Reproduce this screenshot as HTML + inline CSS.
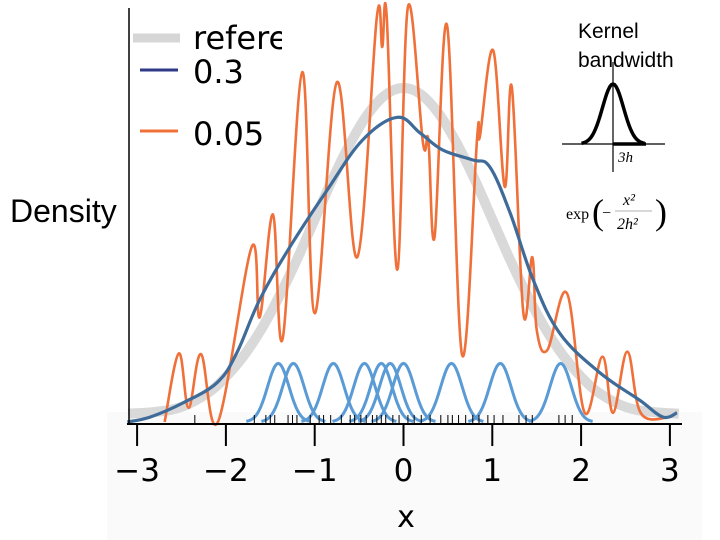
<!DOCTYPE html>
<html><head><meta charset="utf-8"><style>
html,body{margin:0;padding:0;background:#fff;}
svg{display:block;}
</style></head><body>
<svg id="chart" width="720" height="540" viewBox="0 0 720 540" xmlns="http://www.w3.org/2000/svg">
<rect x="107" y="412" width="595" height="128" fill="#fafafa"/>
<g id="plot"></g>
<g id="axes"></g>
<text x="10" y="222" font-family="Liberation Sans, sans-serif" font-size="32" fill="#000">Density</text>
<text x="406" y="527" text-anchor="middle" font-family="DejaVu Sans, sans-serif" font-size="30" fill="#000">x</text>
<g>
  <line x1="133" y1="38" x2="180" y2="38" stroke="#d6d6d6" stroke-width="9"/>
  <svg x="190" y="0" width="92" height="60"><text x="3" y="49" font-family="DejaVu Sans, sans-serif" font-size="32" fill="#000">reference</text></svg>
  <line x1="140" y1="70" x2="178" y2="70" stroke="#2e3a87" stroke-width="3"/>
  <text x="193" y="83" font-family="DejaVu Sans, sans-serif" font-size="32" fill="#000">0.3</text>
  <line x1="140" y1="131" x2="178" y2="131" stroke="#f0703a" stroke-width="3"/>
  <text x="193" y="145" font-family="DejaVu Sans, sans-serif" font-size="32" fill="#000">0.05</text>
</g>
<g>
  <text x="578" y="38" font-family="Liberation Sans, sans-serif" font-size="21" fill="#000">Kernel</text>
  <text x="578" y="67" font-family="Liberation Sans, sans-serif" font-size="21" fill="#000">bandwidth</text>
  <line x1="562" y1="144" x2="665" y2="144" stroke="#000" stroke-width="1.2"/>
  <line x1="613" y1="62" x2="613" y2="172" stroke="#000" stroke-width="1.2"/>
  <path id="kcurve" fill="none" stroke="#000" stroke-width="3.5"/>
  <line x1="613" y1="144" x2="646" y2="144" stroke="#000" stroke-width="3.5"/>
  <text x="618" y="162" font-family="Liberation Serif, serif" font-style="italic" font-size="15" fill="#000">3h</text>
  <text x="566" y="219" font-family="Liberation Serif, serif" font-size="16" fill="#000">exp</text>
  <text x="592" y="224" font-family="Liberation Serif, serif" font-size="36" fill="#000">(</text>
  <text x="602" y="218" font-family="Liberation Serif, serif" font-size="16" fill="#000">−</text>
  <text x="623" y="205" font-family="Liberation Serif, serif" font-style="italic" font-size="16" fill="#000">x²</text>
  <line x1="615" y1="211" x2="652" y2="211" stroke="#999" stroke-width="0.8"/>
  <text x="617" y="229" font-family="Liberation Serif, serif" font-style="italic" font-size="16" fill="#000">2h²</text>
  <text x="655" y="224" font-family="Liberation Serif, serif" font-size="36" fill="#000">)</text>
</g>
</svg>
<script>
// ---- data ----
const refX = [-3.1,-2.8,-2.5,-2.2,-2.0,-1.8,-1.6,-1.4,-1.2,-1.0,-0.8,-0.6,-0.4,-0.2,0,0.2,0.4,0.6,0.8,1.0,1.2,1.4,1.6,1.8,2.0,2.2,2.5,2.8,3.1];
const refY = [0.010,0.012,0.018,0.035,0.054,0.079,0.111,0.150,0.194,0.242,0.290,0.333,0.368,0.391,0.399,0.391,0.368,0.333,0.290,0.242,0.194,0.150,0.111,0.079,0.054,0.035,0.018,0.012,0.010];
const bw03X = [-3.11,-2.85,-2.48,-2.10,-1.88,-1.62,-1.28,-0.86,-0.46,-0.07,0.19,0.44,0.78,0.97,1.20,1.46,1.76,2.21,2.66,2.92,3.08];
const bw03Y = [0,0.006,0.023,0.047,0.082,0.146,0.209,0.277,0.337,0.364,0.345,0.325,0.313,0.305,0.250,0.170,0.106,0.059,0.026,0.006,0.011];
const bw005X = [-2.69,-2.53,-2.42,-2.28,-2.09,-1.71,-1.62,-1.47,-1.36,-1.14,-1.00,-0.75,-0.52,-0.30,-0.24,-0.19,-0.07,0.05,0.22,0.28,0.35,0.49,0.66,0.83,0.86,1.01,1.14,1.22,1.35,1.45,1.50,1.62,1.84,2.04,2.24,2.36,2.52,2.67,2.97];
const bw005Y = [0,0.082,0.017,0.081,0,0.209,0.125,0.248,0.100,0.418,0.130,0.406,0.197,0.484,0.448,0.486,0.182,0.496,0.333,0.337,0.221,0.474,0.080,0.341,0.341,0.444,0.281,0.400,0.130,0.197,0.110,0.086,0.154,0.011,0.078,0.011,0.084,0.011,0.005];
const kernelCenters = [-1.41,-1.24,-0.79,-0.44,-0.25,-0.15,0.0,0.54,1.09,1.77];
const kernelHeight = 0.07;
const kernelSigma = 0.12;
const rug = [-2.35,-1.68,-1.55,-1.5,-1.45,-1.3,-1.25,-1.2,-1.05,-0.95,-0.9,-0.82,-0.7,-0.6,-0.55,-0.48,-0.42,-0.35,-0.3,-0.25,-0.2,-0.12,-0.05,0.05,0.12,0.2,0.3,0.42,0.5,0.55,0.62,0.7,0.78,0.85,0.95,1.02,1.12,1.3,1.38,1.45,1.75,1.82,1.9];
const xTicks = [-3,-2,-1,0,1,2,3];
const xTickLabels = ["−3","−2","−1","0","1","2","3"];
// ---- scales ----
const X0 = 403.5, XS = 88.8, Y0 = 422, YS = 837;
const sx = v => X0 + v*XS;
const sy = v => Y0 - v*YS;
const NS = "http://www.w3.org/2000/svg";
const plot = document.getElementById('plot');
const axes = document.getElementById('axes');
function smoothPath(xs, ys){
  const p = xs.map((x,i)=>[sx(x), sy(ys[i])]);
  let d = 'M' + p[0][0] + ',' + p[0][1];
  for(let i=0;i<p.length-1;i++){
    const a=p[Math.max(0,i-1)], b=p[i], c=p[i+1], e=p[Math.min(p.length-1,i+2)];
    const t=0.18;
    d += ' C' + (b[0]+(c[0]-a[0])*t) + ',' + (b[1]+(c[1]-a[1])*t) + ' ' + (c[0]-(e[0]-b[0])*t) + ',' + (c[1]-(e[1]-b[1])*t) + ' ' + c[0] + ',' + c[1];
  }
  return d;
}
function addPath(d, stroke, w){
  const p = document.createElementNS(NS,'path');
  p.setAttribute('d', d); p.setAttribute('fill','none');
  p.setAttribute('stroke', stroke); p.setAttribute('stroke-width', w);
  p.setAttribute('stroke-linejoin','round');
  plot.appendChild(p); return p;
}
let el = addPath(smoothPath(refX, refY), '#d9d9d9', 10);


el = addPath(smoothPath(bw005X, bw005Y), '#f0703a', 2.6);


kernelCenters.forEach(function(c){
  let d='';
  for(let k=0;k<=40;k++){
    const x = c - 3*kernelSigma + k*(6*kernelSigma/40);
    const y = kernelHeight*Math.exp(-((x-c)*(x-c))/(2*kernelSigma*kernelSigma));
    d += (k?' L':'M') + sx(x) + ',' + sy(y);
  }
  const kp = addPath(d, '#5b9bd5', 3);
  
  
});
el = addPath(smoothPath(bw03X, bw03Y), '#3f6b99', 3.2);


function line(x1,y1,x2,y2,w,parent){
  const l=document.createElementNS(NS,'line');
  l.setAttribute('x1',x1);l.setAttribute('y1',y1);l.setAttribute('x2',x2);l.setAttribute('y2',y2);
  l.setAttribute('stroke','#000');l.setAttribute('stroke-width',w);
  parent.appendChild(l);return l;
}
el = line(129,8,129,424,1.5,axes);


el = line(127,424,682,424,2,axes);


rug.forEach(function(r){
  const t = line(sx(r),424,sx(r),415,1,axes);
  
  
});
xTicks.forEach(function(v,i){
  const t = line(sx(v),424,sx(v),446,2,axes);
  
  
  const tx=document.createElementNS(NS,'text');
  tx.setAttribute('x', sx(v)); tx.setAttribute('y', 481);
  tx.setAttribute('text-anchor','middle');
  tx.setAttribute('font-family','DejaVu Sans, sans-serif');
  tx.setAttribute('font-size','31');
  tx.textContent = xTickLabels[i];
  
  
  axes.appendChild(tx);
});
let kd='';
for(let k=0;k<=40;k++){
  const u = -3 + k*6/40;
  kd += (k?' L':'M') + (613 + u*10.5) + ',' + (144 - 60*Math.exp(-u*u/2));
}
document.getElementById('kcurve').setAttribute('d', kd);
</script>
</body></html>
